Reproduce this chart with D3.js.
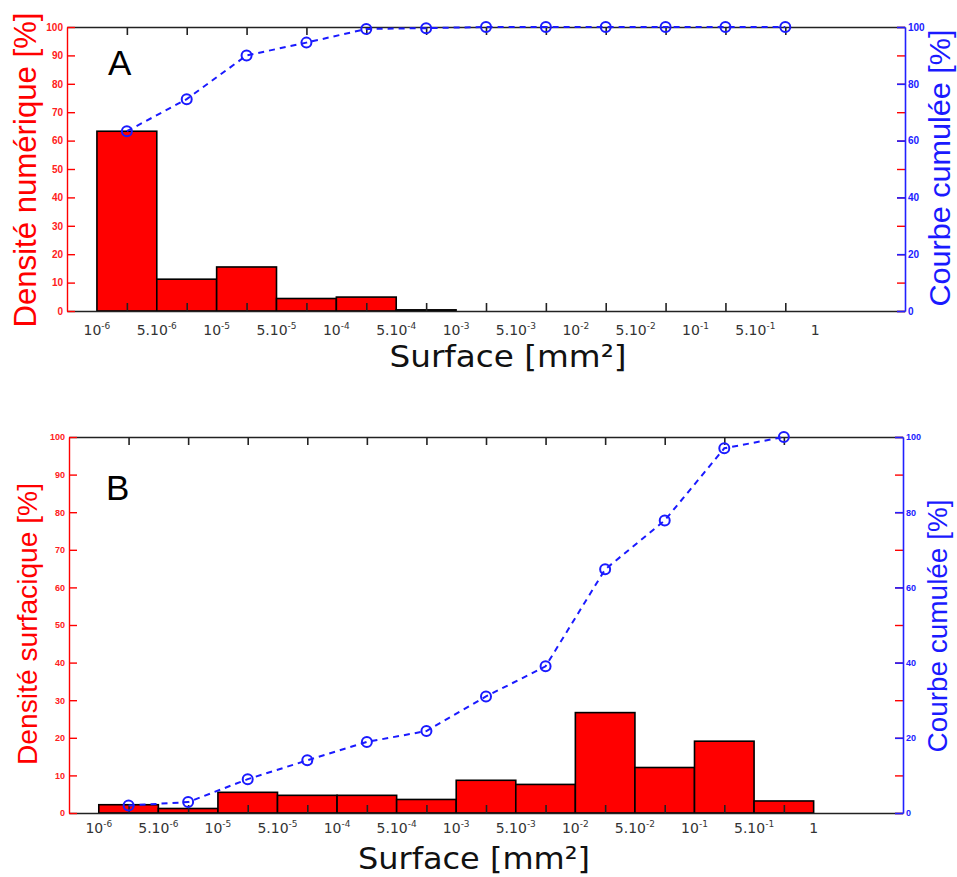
<!DOCTYPE html>
<html><head><meta charset="utf-8">
<script src="https://cdn.jsdelivr.net/npm/d3@7"></script>
<style>body{margin:0;background:#fff} svg{display:block}</style>
</head><body>
<svg id="c" width="957" height="877"></svg>
<script>
// ---- data ----
const edgeBase = ["10","5.10","10","5.10","10","5.10","10","5.10","10","5.10","10","5.10","1"];
const edgeExp  = ["-6","-6","-5","-5","-4","-4","-3","-3","-2","-2","-1","-1",""];
const leftTicks = [0,10,20,30,40,50,60,70,80,90,100];
const rightTicks = [0,20,40,60,80,100];
const densiteNumerique = [63.3, 11.2, 15.5, 4.4, 4.9, 0.4, 0, 0, 0, 0, 0, 0];
const cumulA = [63.3, 74.6, 90.0, 94.5, 99.3, 99.6, 100, 100, 100, 100, 100, 100];
const densiteSurfacique = [2.2, 1.2, 5.5, 4.7, 4.7, 3.6, 8.7, 7.6, 26.7, 12.1, 19.1, 3.2];
const cumulB = [2.0, 2.9, 9.0, 14.0, 18.9, 21.8, 31.0, 39.0, 64.8, 77.8, 97.0, 100];

const svg = d3.select("#c");

function panel(o) {
  const g = svg.append("g");
  const x = d3.scaleLinear().domain([0, 14]).range([o.left, o.right]);
  const y = d3.scaleLinear().domain([0, 100]).range([o.bottom, o.top]);
  const bw = x(1) - x(0);

  // bars
  g.selectAll("rect.bar").data(o.bars).join("rect").attr("class","bar")
    .attr("x", (d,i) => x(i + 0.5)).attr("width", bw)
    .attr("y", d => y(d)).attr("height", d => y(0) - y(d))
    .attr("fill", "#ff0000").attr("stroke", "#000").attr("stroke-width", 1.6);

  const centers = d3.range(1, 13);
  // top and bottom black axes
  const ax = (a, yy) => {
    const s = g.append("g").attr("transform", `translate(0,${yy})`)
      .call(a.tickValues(centers).tickSize(-8).tickSizeOuter(0).tickFormat(""));
    s.selectAll("path,line").attr("stroke", "#222").attr("stroke-width", 1.6);
  };
  ax(d3.axisTop(x), o.top);
  ax(d3.axisBottom(x), o.bottom);

  // left red axis
  const la = g.append("g").attr("transform", `translate(${o.left},0)`)
    .call(d3.axisLeft(y).tickValues(leftTicks).tickSize(-8).tickSizeOuter(0).tickPadding(4));
  la.selectAll("path,line").attr("stroke", "#ff0000").attr("stroke-width", 1.4);
  la.selectAll("text").attr("fill", "#ff2020").attr("font-family", "Liberation Sans, Arial, sans-serif")
    .attr("font-size", o.tickFs).attr("font-weight", "bold");

  // right side: red mirrored ticks, then blue axis
  const rr = g.append("g").attr("transform", `translate(${o.right},0)`)
    .call(d3.axisRight(y).tickValues(leftTicks).tickSize(-8).tickSizeOuter(0).tickFormat(""));
  rr.selectAll("path").remove();
  rr.selectAll("line").attr("stroke", "#ff0000").attr("stroke-width", 1.4);
  const ra = g.append("g").attr("transform", `translate(${o.right},0)`)
    .call(d3.axisRight(y).tickValues(rightTicks).tickSize(-8).tickSizeOuter(0).tickPadding(3));
  ra.selectAll("path,line").attr("stroke", "#2020ff").attr("stroke-width", 1.6);
  ra.selectAll("text").attr("fill", "#2020ff").attr("font-family", "Liberation Sans, Arial, sans-serif")
    .attr("font-size", o.tickFs).attr("font-weight", "bold");

  // cumulative curve
  const line = d3.line().x((d,i) => x(i + 1)).y(d => y(d));
  g.append("path").datum(o.cumul).attr("d", line).attr("fill", "none")
    .attr("stroke", "#1a1aff").attr("stroke-width", 2).attr("stroke-dasharray", "6,5");
  g.selectAll("circle").data(o.cumul).join("circle")
    .attr("cx", (d,i) => x(i + 1)).attr("cy", d => y(d)).attr("r", 5)
    .attr("fill", "none").attr("stroke", "#1a1aff").attr("stroke-width", 2);

  // x edge labels
  const lt = g.selectAll("text.xl").data(edgeBase).join("text").attr("class","xl")
    .attr("x", (d,i) => x(i + 0.5)).attr("y", o.labelY)
    .attr("text-anchor", "middle").attr("fill", "#333")
    .attr("font-family", "DejaVu Sans, Verdana, sans-serif").attr("font-size", 14);
  lt.append("tspan").text(d => d);
  lt.append("tspan").attr("dy", -6).attr("font-size", 9).text((d,i) => edgeExp[i]);

  // x title
  g.append("text").attr("x", o.xTitleX).attr("y", o.xTitleY).attr("text-anchor", "middle")
    .attr("font-family", "DejaVu Sans, Verdana, sans-serif").attr("font-size", 31).attr("fill", "#111")
    .attr("textLength", o.xTitleLen).attr("lengthAdjust", "spacingAndGlyphs")
    .text("Surface [mm²]");

  // y titles
  g.append("text").attr("transform", `translate(${o.lTitleX},${o.lTitleY}) rotate(-90)`)
    .attr("text-anchor", "middle").attr("fill", "#ff0000")
    .attr("font-family", "Liberation Sans, Arial, sans-serif").attr("font-size", o.lTitleFs)
    .attr("textLength", o.lTitleLen).attr("lengthAdjust", "spacingAndGlyphs")
    .text(o.lTitle);
  g.append("text").attr("transform", `translate(${o.rTitleX},${o.rTitleY}) rotate(-90)`)
    .attr("text-anchor", "middle").attr("fill", "#1a1aff")
    .attr("font-family", "Liberation Sans, Arial, sans-serif").attr("font-size", o.rTitleFs)
    .attr("textLength", o.rTitleLen).attr("lengthAdjust", "spacingAndGlyphs")
    .text("Courbe cumulée [%]");

  // panel letter
  g.append("text").attr("x", o.letterX).attr("y", o.letterY)
    .attr("font-family", "Liberation Sans, Arial, sans-serif").attr("font-size", 35).attr("fill", "#000")
    .text(o.letter);
}

panel({
  left: 67, right: 905, top: 27, bottom: 311,
  bars: densiteNumerique, cumul: cumulA, tickFs: 10,
  labelY: 335, xTitleX: 508, xTitleY: 367, xTitleLen: 237,
  lTitle: "Densité numérique [%]", lTitleX: 36, lTitleY: 170, lTitleFs: 31, lTitleLen: 315,
  rTitleX: 950, rTitleY: 168, rTitleFs: 30, rTitleLen: 277,
  letter: "A", letterX: 108, letterY: 75
});
panel({
  left: 69, right: 903, top: 437, bottom: 813,
  bars: densiteSurfacique, cumul: cumulB, tickFs: 9,
  labelY: 833, xTitleX: 474, xTitleY: 869, xTitleLen: 232,
  lTitle: "Densité surfacique [%]", lTitleX: 37, lTitleY: 624, lTitleFs: 28, lTitleLen: 282,
  rTitleX: 947, rTitleY: 626, rTitleFs: 28, rTitleLen: 253,
  letter: "B", letterX: 106, letterY: 500
});
</script>
</body></html>
